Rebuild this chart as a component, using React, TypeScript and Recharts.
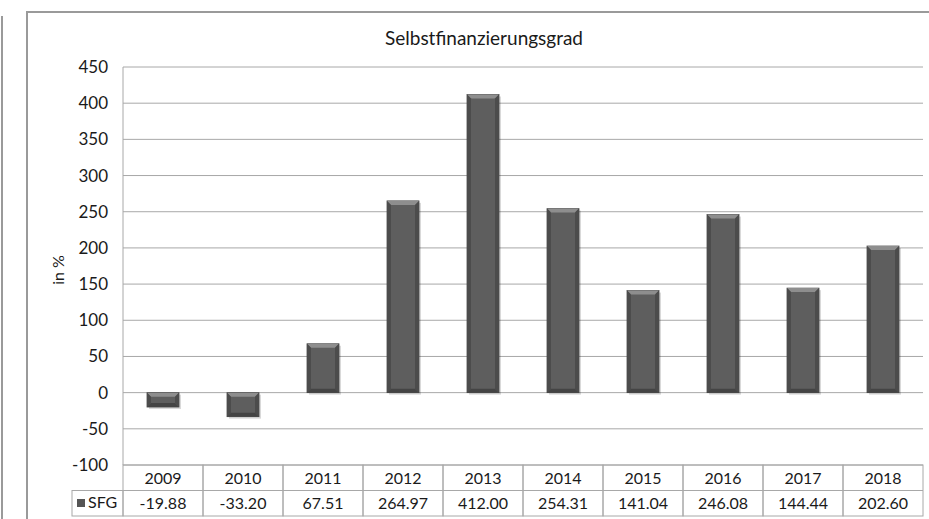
import { BarChart, Bar, XAxis, YAxis, CartesianGrid } from 'recharts'

const YEARS = ['2009', '2010', '2011', '2012', '2013', '2014', '2015', '2016', '2017', '2018']
const SFG = [-19.88, -33.2, 67.51, 264.97, 412.0, 254.31, 141.04, 246.08, 144.44, 202.6]
const Y_TICKS = [-100, -50, 0, 50, 100, 150, 200, 250, 300, 350, 400, 450]

const FONT = 'Lato, "Liberation Sans", sans-serif'
const TEXT = '#1a1a1a'
const LINE = '#a8a8a8'

const data = YEARS.map((year, i) => ({ year, sfg: SFG[i] }))

// bevelled grey bar, a bit like the old Excel style
const BevelBar = (props: any) => {
  let { x, y, width, height } = props
  if (height < 0) {
    y = y + height
    height = -height
  }
  const e = Math.min(4, height / 3)
  return (
    <g>
      <rect x={x + 2} y={y + 2} width={width} height={height} fill="rgba(0,0,0,0.15)" />
      <rect x={x} y={y} width={width} height={height} fill="#5e5e5e" stroke="#4a4a4a" strokeWidth={0.8} />
      <polygon
        points={`${x},${y} ${x + width},${y} ${x + width - e},${y + e} ${x + e},${y + e}`}
        fill="#8e8e8e"
      />
      <polygon
        points={`${x},${y} ${x + e},${y + e} ${x + e},${y + height - e} ${x},${y + height}`}
        fill="#4c4c4c"
      />
      <polygon
        points={`${x + width},${y} ${x + width - e},${y + e} ${x + width - e},${y + height - e} ${x + width},${y + height}`}
        fill="#4c4c4c"
      />
      <polygon
        points={`${x},${y + height} ${x + e},${y + height - e} ${x + width - e},${y + height - e} ${x + width},${y + height}`}
        fill="#444"
      />
    </g>
  )
}

// each x tick draws one column of the data table
const TableTick = (props: any) => {
  const { x, y, payload, index } = props
  const w = 80
  const rowH = 25.5
  return (
    <g>
      <rect x={x - w / 2} y={y} width={w} height={rowH * 2} fill="none" stroke={LINE} strokeWidth={1} />
      <line x1={x - w / 2} x2={x + w / 2} y1={y + rowH} y2={y + rowH} stroke={LINE} />
      <text x={x} y={y + 19} textAnchor="middle" fontSize={16} fill={TEXT} fontFamily={FONT}>
        {payload.value}
      </text>
      <text x={x} y={y + rowH + 18} textAnchor="middle" fontSize={16} fill={TEXT} fontFamily={FONT}>
        {SFG[index].toFixed(2)}
      </text>
    </g>
  )
}

export default function App() {
  return (
    <div style={{ position: 'absolute', left: 0, top: 0, width: 929, height: 519, background: '#fff', overflow: 'hidden' }}>
      <div style={{ position: 'absolute', left: 1, top: 16, width: 2, height: 510, background: '#9a9a9a' }} />
      <div
        style={{
          position: 'absolute',
          left: 26,
          top: 11,
          width: 920,
          height: 520,
          borderLeft: '2px solid #9a9a9a',
          borderTop: '2px solid #9a9a9a',
        }}
      />
      <div
        style={{
          position: 'absolute',
          left: 28,
          top: 26,
          width: 912,
          textAlign: 'center',
          fontFamily: FONT,
          fontSize: 19,
          color: TEXT,
        }}
      >
        Selbstfinanzierungsgrad
      </div>
      <svg style={{ position: 'absolute', left: 0, top: 0 }} width={929} height={519}>
        <rect x={72} y={490.5} width={51} height={25.5} fill="none" stroke={LINE} />
        <rect x={77} y={499} width={8} height={8} fill="#555" />
        <text x={88} y={508} fontSize={16} fill={TEXT} fontFamily={FONT}>
          SFG
        </text>
        <text
          x={0}
          y={0}
          transform="translate(64,270) rotate(-90)"
          textAnchor="middle"
          fontSize={16}
          fill={TEXT}
          fontFamily={FONT}
        >
          in %
        </text>
      </svg>
      <div style={{ position: 'absolute', left: 0, top: 0 }}>
        <BarChart
          width={929}
          height={519}
          data={data}
          margin={{ top: 67, right: 6, left: 0, bottom: 0 }}
          barSize={32}
        >
          <CartesianGrid vertical={false} stroke={LINE} />
          <YAxis
            type="number"
            domain={[-100, 450]}
            ticks={Y_TICKS}
            width={123}
            tickLine={false}
            tickSize={0}
            tickMargin={15}
            axisLine={{ stroke: LINE }}
            tick={{ fill: TEXT, fontSize: 17, fontFamily: FONT }}
          />
          <XAxis
            dataKey="year"
            height={54}
            axisLine={false}
            tickLine={false}
            tickSize={0}
            tickMargin={0}
            interval={0}
            tick={<TableTick />}
          />
          <Bar dataKey="sfg" shape={<BevelBar />} isAnimationActive={false} />
        </BarChart>
      </div>
    </div>
  )
}
